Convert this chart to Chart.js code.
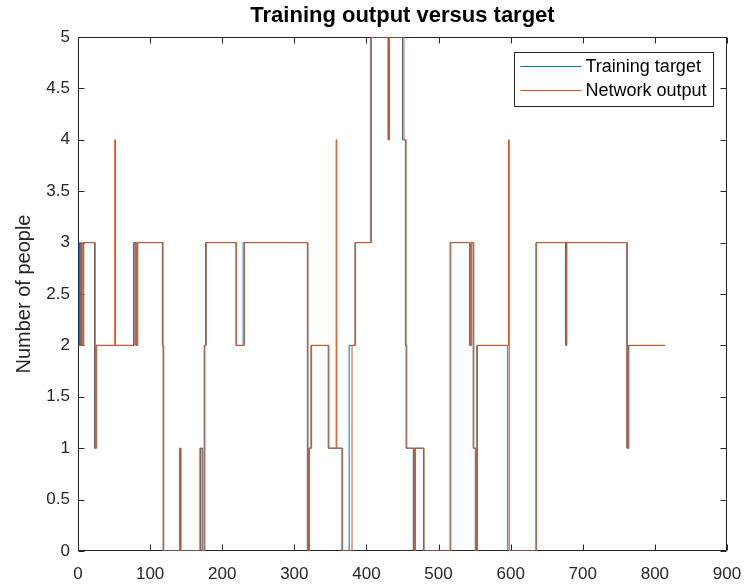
<!DOCTYPE html>
<html lang="en">
<head>
<meta charset="UTF-8">
<title>Training output versus target</title>
<script src="https://cdn.jsdelivr.net/npm/chart.js"></script>
<style>
  body { margin: 0; background: #fff; }
  #wrap { width: 744px; height: 585px; }
</style>
</head>
<body>
<div id="wrap"><canvas id="chart" width="744" height="585"></canvas></div>
<script>
"use strict";

// change points: each value holds from its sample index until the next change
const targetX = [1, 2, 3, 4, 7, 23, 25, 77, 80, 82, 117, 118, 141, 142, 170, 173, 175, 177, 219, 229,
                 318, 320, 323, 347, 366, 376, 384, 406, 430, 431, 450, 454, 455, 465, 466, 479,
                 516, 543, 545, 548, 551, 553, 596, 635, 676, 677, 761, 763, 814];
const targetY = [3, 2, 3, 2, 3, 1, 2, 3, 2, 3, 2, 0, 1, 0, 1, 0, 2, 3, 2, 3,
                 0, 1, 2, 1, 0, 2, 3, 5, 4, 5, 4, 2, 1, 0, 1, 0,
                 3, 2, 3, 1, 0, 2, 0, 3, 2, 3, 1, 2, 2];

const outputX = [1, 5, 6, 8, 24, 26, 51, 52, 78, 81, 83, 118, 119, 142, 143, 169, 172, 176, 178, 220, 231,
                 319, 321, 324, 348, 358, 359, 367, 380, 385, 407, 431, 432, 452, 455, 456, 467, 468, 480,
                 517, 544, 546, 549, 552, 554, 597, 598, 636, 677, 678, 762, 764, 814];
const outputY = [2, 3, 2, 3, 1, 2, 4, 2, 3, 2, 3, 2, 0, 1, 0, 1, 0, 2, 3, 2, 3,
                 0, 1, 2, 1, 4, 1, 0, 2, 3, 5, 4, 5, 4, 2, 1, 0, 1, 0,
                 3, 2, 3, 1, 0, 2, 4, 0, 3, 2, 3, 1, 2, 2];

const seriesNames = ['Training target', 'Network output'];
const seriesColors = ['#0072BD', '#D95319'];
const chartTitle = 'Training output versus target';
const yTitle = 'Number of people';

const FONT = "'Liberation Sans', Arial, sans-serif";
const axisColor = '#262626';

function toPoints(xs, ys) {
    return xs.map((x, i) => ({ x: x, y: ys[i] }));
}

// MATLAB style box with inward ticks on all four sides, plus boxed legend
const matlabAxes = {
    id: 'matlabAxes',
    beforeDatasetsDraw(chart) {
        const { ctx, chartArea: a, scales } = chart;
        const tl = 6;
        ctx.save();
        ctx.strokeStyle = axisColor;
        ctx.lineWidth = 1;
        ctx.beginPath();
        const L = Math.round(a.left) + 0.5, R = Math.round(a.right) - 0.5;
        const T = Math.round(a.top) + 0.5, B = Math.round(a.bottom) - 0.5;
        ctx.rect(L, T, R - L, B - T);
        scales.x.ticks.forEach(t => {
            const px = Math.round(scales.x.getPixelForValue(t.value)) + 0.5;
            ctx.moveTo(px, B); ctx.lineTo(px, B - tl);
            ctx.moveTo(px, T); ctx.lineTo(px, T + tl);
        });
        scales.y.ticks.forEach(t => {
            const py = Math.round(scales.y.getPixelForValue(t.value)) + 0.5;
            ctx.moveTo(L, py); ctx.lineTo(L + tl, py);
            ctx.moveTo(R, py); ctx.lineTo(R - tl, py);
        });
        ctx.stroke();
        ctx.restore();
    },
    afterDatasetsDraw(chart) {
        const { ctx, chartArea: a } = chart;
        const w = 199, h = 54;
        const x0 = Math.round(a.right) - 14 - w + 0.5;
        const y0 = Math.round(a.top) + 15 + 0.5;
        ctx.save();
        ctx.fillStyle = '#fff';
        ctx.fillRect(x0, y0, w, h);
        ctx.strokeStyle = axisColor;
        ctx.lineWidth = 1;
        ctx.strokeRect(x0, y0, w, h);
        ctx.font = '18px ' + FONT;
        ctx.textBaseline = 'middle';
        ctx.textAlign = 'left';
        seriesNames.forEach((name, i) => {
            const yy = y0 + 14 + i * 24;
            ctx.beginPath();
            ctx.strokeStyle = seriesColors[i];
            ctx.lineWidth = 1.2;
            ctx.moveTo(x0 + 6, yy);
            ctx.lineTo(x0 + 67, yy);
            ctx.stroke();
            ctx.fillStyle = '#000';
            ctx.fillText(name, x0 + 71, yy + 1);
        });
        ctx.restore();
    }
};

const ctx = document.getElementById('chart').getContext('2d');
new Chart(ctx, {
    type: 'line',
    data: {
        datasets: [
            {
                label: seriesNames[0],
                data: toPoints(targetX, targetY),
                borderColor: seriesColors[0],
                borderWidth: 1,
                pointRadius: 0,
                stepped: 'before',
                fill: false,
                order: 2
            },
            {
                label: seriesNames[1],
                data: toPoints(outputX, outputY),
                borderColor: seriesColors[1],
                borderWidth: 1,
                pointRadius: 0,
                stepped: 'before',
                fill: false,
                order: 1
            }
        ]
    },
    options: {
        responsive: false,
        animation: false,
        layout: { padding: { left: 0, right: 17, top: 0, bottom: 0 } },
        plugins: {
            legend: { display: false },
            tooltip: { enabled: false },
            title: {
                display: true,
                text: chartTitle,
                fullSize: false,
                color: '#000',
                font: { family: FONT, size: 22, weight: 'bold' },
                padding: { top: 3, bottom: 7.6 }
            }
        },
        scales: {
            x: {
                type: 'linear',
                min: 0,
                max: 900,
                grid: { display: false, drawTicks: false },
                border: { display: false },
                ticks: {
                    stepSize: 100,
                    color: axisColor,
                    font: { family: FONT, size: 17 },
                    padding: 13,
                    maxRotation: 0
                },
                afterFit(scale) {
                    scale.height = 34;
                    scale.paddingLeft = 0;
                    scale.paddingRight = 0;
                }
            },
            y: {
                min: 0,
                max: 5,
                grid: { display: false, drawTicks: false },
                border: { display: false },
                ticks: {
                    stepSize: 0.5,
                    color: axisColor,
                    font: { family: FONT, size: 17 },
                    padding: 8,
                    callback: v => String(v)
                },
                title: {
                    display: true,
                    text: yTitle,
                    color: axisColor,
                    font: { family: FONT, size: 20 },
                    padding: { top: 12, bottom: 0 }
                },
                afterFit(scale) {
                    scale.width = 78;
                    scale.paddingTop = 0;
                    scale.paddingBottom = 0;
                }
            }
        }
    },
    plugins: [matlabAxes]
});
</script>
</body>
</html>
